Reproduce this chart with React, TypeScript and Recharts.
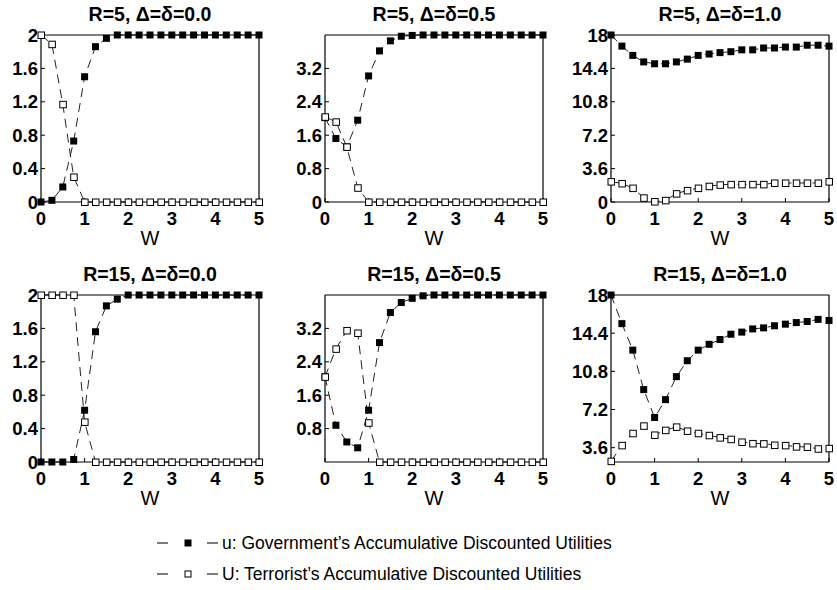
import React from "react";
import { LineChart, Line, XAxis, YAxis } from "recharts";

// W values shared by every panel
const wValues = [0, 0.25, 0.5, 0.75, 1, 1.25, 1.5, 1.75, 2, 2.25, 2.5, 2.75, 3, 3.25, 3.5, 3.75, 4, 4.25, 4.5, 4.75, 5];
const xTicks = [0, 1, 2, 3, 4, 5];

// u = government, U = terrorist
const govR5D00 = [0, 0.02, 0.18, 0.73, 1.5, 1.86, 1.96, 2, 2, 2, 2, 2, 2, 2, 2, 2, 2, 2, 2, 2, 2];
const terR5D00 = [2, 1.89, 1.17, 0.3, 0, 0, 0, 0, 0, 0, 0, 0, 0, 0, 0, 0, 0, 0, 0, 0, 0];

const govR5D05 = [2.02, 1.52, 1.32, 1.96, 3.02, 3.62, 3.86, 3.97, 3.99, 4, 4, 4, 4, 4, 4, 4, 4, 4, 4, 4, 4];
const terR5D05 = [2.04, 1.92, 1.32, 0.34, 0, 0, 0, 0, 0, 0, 0, 0, 0, 0, 0, 0, 0, 0, 0, 0, 0];

const govR5D10 = [18, 16.8, 15.8, 15.1, 14.9, 14.9, 15.1, 15.4, 15.8, 15.95, 16.1, 16.2, 16.4, 16.4, 16.6, 16.6, 16.7, 16.7, 16.9, 16.9, 16.8];
const terR5D10 = [2.2, 2.0, 1.5, 0.45, 0.05, 0.18, 0.9, 1.25, 1.5, 1.7, 1.85, 1.9, 1.9, 1.9, 1.9, 2.05, 2.05, 2.05, 2.05, 2.05, 2.2];

const govR15D00 = [0, 0, 0, 0.03, 0.62, 1.56, 1.87, 1.95, 2, 2, 2, 2, 2, 2, 2, 2, 2, 2, 2, 2, 2];
const terR15D00 = [2, 2, 2, 2, 0.48, 0, 0, 0, 0, 0, 0, 0, 0, 0, 0, 0, 0, 0, 0, 0, 0];

const govR15D05 = [2.04, 0.88, 0.48, 0.34, 1.24, 2.86, 3.58, 3.82, 3.92, 3.98, 4, 4, 4, 4, 4, 4, 4, 4, 4, 4, 4];
const terR15D05 = [2.04, 2.71, 3.15, 3.09, 0.94, 0, 0, 0, 0, 0, 0, 0, 0, 0, 0, 0, 0, 0, 0, 0, 0];

const govR15D10 = [18, 15.3, 12.8, 9.08, 6.45, 8.13, 10.3, 11.8, 12.8, 13.35, 13.8, 14.3, 14.5, 14.8, 14.9, 15.1, 15.25, 15.4, 15.5, 15.7, 15.6];
const terR15D10 = [2.33, 3.82, 4.96, 5.66, 4.8, 5.25, 5.56, 5.18, 4.96, 4.77, 4.55, 4.4, 4.14, 4.0, 3.98, 3.85, 3.82, 3.7, 3.67, 3.5, 3.54];

const ticks2 = [0, 0.4, 0.8, 1.2, 1.6, 2];
const ticks4 = [0, 0.8, 1.6, 2.4, 3.2];
const ticks4NoZero = [0.8, 1.6, 2.4, 3.2];
const ticks18 = [0, 3.6, 7.2, 10.8, 14.4, 18];
const ticks18NoZero = [3.6, 7.2, 10.8, 14.4, 18];

const panels = [
  { title: "R=5, \u0394=\u03b4=0.0", gov: govR5D00, ter: terR5D00, domain: [0, 2], ticks: ticks2, left: 41, top: 35 },
  { title: "R=5, \u0394=\u03b4=0.5", gov: govR5D05, ter: terR5D05, domain: [0, 4], ticks: ticks4, left: 325, top: 35 },
  { title: "R=5, \u0394=\u03b4=1.0", gov: govR5D10, ter: terR5D10, domain: [0, 18], ticks: ticks18, left: 611, top: 35 },
  { title: "R=15, \u0394=\u03b4=0.0", gov: govR15D00, ter: terR15D00, domain: [0, 2], ticks: ticks2, left: 41, top: 295 },
  { title: "R=15, \u0394=\u03b4=0.5", gov: govR15D05, ter: terR15D05, domain: [0, 4], ticks: ticks4NoZero, left: 325, top: 295 },
  { title: "R=15, \u0394=\u03b4=1.0", gov: govR15D10, ter: terR15D10, domain: [2.25, 18], ticks: ticks18NoZero, left: 611, top: 295 },
];

const PLOT_W = 218;
const PLOT_H = 167;
const Y_W = 40;
const FONT = "'Liberation Sans', Arial, Helvetica, sans-serif";

const tickStyle = { fill: "#000", fontSize: 18.5, fontWeight: 700, fontFamily: FONT };

function FilledSquare(props: any) {
  const { cx, cy, index } = props;
  if (cx == null || cy == null) return null;
  return <rect key={`f-${index}`} x={cx - 3.5} y={cy - 3.5} width={7} height={7} fill="#000" />;
}

function OpenSquare(props: any) {
  const { cx, cy, index } = props;
  if (cx == null || cy == null) return null;
  return <rect key={`o-${index}`} x={cx - 3} y={cy - 3} width={6.5} height={6.5} fill="#fff" stroke="#000" strokeWidth={1} />;
}

function Panel({ p }: { p: (typeof panels)[number] }) {
  const data = wValues.map((w, i) => ({ w, gov: p.gov[i], ter: p.ter[i] }));
  return (
    <div style={{ position: "absolute", left: p.left - Y_W, top: p.top - 25 }}>
      <div
        style={{
          position: "absolute",
          left: Y_W,
          width: PLOT_W,
          top: -7,
          textAlign: "center",
          fontFamily: FONT,
          fontWeight: 700,
          fontSize: 19.5,
          whiteSpace: "nowrap",
        }}
      >
        {p.title}
      </div>
      <LineChart width={Y_W + PLOT_W + 10} height={24 + 1 + PLOT_H + 45} data={data} margin={{ top: 24, right: 0, bottom: 0, left: 0 }}>
        <XAxis
          dataKey="w"
          type="number"
          domain={[0, 5]}
          ticks={xTicks}
          interval={0}
          height={45}
          tick={tickStyle}
          tickSize={-4}
          tickMargin={14}
          axisLine={{ stroke: "#000", strokeWidth: 1.2 }}
          tickLine={{ stroke: "#000" }}
        />
        <XAxis
          xAxisId="top"
          orientation="top"
          type="number"
          domain={[0, 5]}
          ticks={xTicks}
          height={1}
          tick={false}
          tickSize={-4}
          axisLine={{ stroke: "#000", strokeWidth: 1.2 }}
          tickLine={{ stroke: "#000" }}
        />
        <YAxis
          type="number"
          domain={p.domain}
          ticks={p.ticks}
          interval={0}
          width={Y_W}
          tick={tickStyle}
          tickSize={-4}
          tickMargin={7}
          tickFormatter={(v: number) => String(v)}
          axisLine={{ stroke: "#000", strokeWidth: 1.2 }}
          tickLine={{ stroke: "#000" }}
        />
        <YAxis
          yAxisId="right"
          orientation="right"
          type="number"
          domain={p.domain}
          ticks={p.ticks}
          width={10}
          tick={false}
          tickSize={-4}
          axisLine={{ stroke: "#000", strokeWidth: 1.2 }}
          tickLine={{ stroke: "#000" }}
        />
        <Line
          type="linear"
          dataKey="gov"
          stroke="#222"
          strokeWidth={1}
          strokeDasharray="9 6"
          dot={FilledSquare}
          activeDot={false}
          isAnimationActive={false}
        />
        <Line
          type="linear"
          dataKey="ter"
          stroke="#222"
          strokeWidth={1}
          strokeDasharray="9 6"
          dot={OpenSquare}
          activeDot={false}
          isAnimationActive={false}
        />
      </LineChart>
      <div
        style={{
          position: "absolute",
          left: Y_W,
          width: PLOT_W,
          top: 25 + PLOT_H + 25,
          textAlign: "center",
          fontFamily: FONT,
          fontSize: 20,
        }}
      >
        W
      </div>
    </div>
  );
}

function LegendRow({ filled, label, top }: { filled: boolean; label: string; top: number }) {
  return (
    <div style={{ position: "absolute", left: 154, top: top - 12, height: 24, display: "flex", alignItems: "center" }}>
      <svg width={68} height={24}>
        <line x1={3} x2={14} y1={12} y2={12} stroke="#222" strokeWidth={1.2} />
        {filled ? (
          <rect x={30.5} y={8.5} width={7} height={7} fill="#000" />
        ) : (
          <rect x={31} y={9} width={6} height={6} fill="#fff" stroke="#000" strokeWidth={1} />
        )}
        <line x1={53} x2={64} y1={12} y2={12} stroke="#222" strokeWidth={1.2} />
      </svg>
      <span style={{ fontFamily: FONT, fontSize: 17.5, marginLeft: 0, whiteSpace: "nowrap" }}>{label}</span>
    </div>
  );
}

export default function App() {
  return (
    <div style={{ position: "absolute", left: 0, top: 0, width: 837, height: 590, background: "#fff", overflow: "hidden" }}>
      {panels.map((p) => (
        <Panel key={p.title} p={p} />
      ))}
      <LegendRow filled label={"u: Government\u2019s Accumulative Discounted Utilities"} top={543} />
      <LegendRow filled={false} label={"U: Terrorist\u2019s Accumulative Discounted Utilities"} top={574} />
    </div>
  );
}
